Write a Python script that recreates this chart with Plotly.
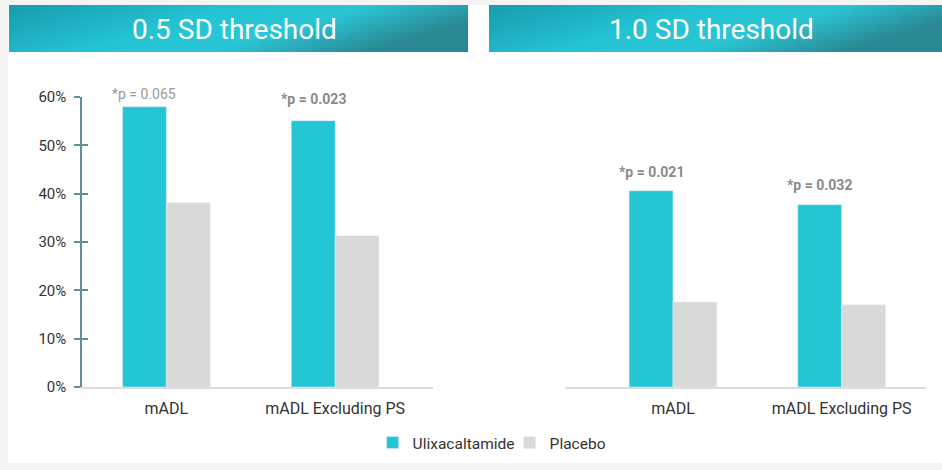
import base64
import plotly.graph_objects as go

# ---- data -------------------------------------------------------------
categories = ["mADL", "mADL Excluding PS"]
panel_titles = ["0.5 SD threshold", "1.0 SD threshold"]

ulix_05 = [58.0, 55.1]
placebo_05 = [38.1, 31.3]
ulix_10 = [40.6, 37.7]
placebo_10 = [17.6, 17.0]

p_labels_05 = ["*p = 0.065", "*p = 0.023"]
p_labels_10 = ["*p = 0.021", "*p = 0.032"]
p_bold_05 = [False, True]
p_bold_10 = [True, True]

y_ticks = [0, 10, 20, 30, 40, 50, 60]
y_tick_text = [f"{v}%" for v in y_ticks]

# ---- styling ----------------------------------------------------------
W, H = 942, 470
ULIX = "#24c6d6"
PLAC = "#d9d9d9"
FONT = "Roboto"


def px_x(v):
    return v / W


def px_y(v):
    return 1 - v / H


def header_svg():
    svg = (
        '<svg xmlns="http://www.w3.org/2000/svg" width="460" height="47" '
        'preserveAspectRatio="none" viewBox="0 0 460 47">'
        '<defs><linearGradient id="g" x1="0" y1="0" x2="1" y2="0.35">'
        '<stop offset="0" stop-color="#179cad"/>'
        '<stop offset="0.45" stop-color="#24c3d4"/>'
        '<stop offset="0.7" stop-color="#2ac6d5"/>'
        '<stop offset="1" stop-color="#2a8995"/>'
        '</linearGradient></defs>'
        '<rect width="460" height="47" fill="url(#g)"/></svg>'
    )
    return "data:image/svg+xml;base64," + base64.b64encode(svg.encode()).decode()


fig = go.Figure()

panels = [
    ("x", "y", ulix_05, placebo_05, True),
    ("x2", "y2", ulix_10, placebo_10, False),
]
for i, (xa, ya, u, p, show) in enumerate(panels):
    fig.add_trace(go.Bar(x=categories, y=u, name="Ulixacaltamide", marker_color=ULIX,
                         xaxis=xa, yaxis=ya, showlegend=show, legendgroup="u"))
    fig.add_trace(go.Bar(x=categories, y=p, name="Placebo", marker_color=PLAC,
                         xaxis=xa, yaxis=ya, showlegend=show, legendgroup="p"))

# p-value labels over the Ulixacaltamide bars
bar_offset = -0.13
for xa, ya, vals, labels, bolds, shifts in [
    ("x", "y", ulix_05, p_labels_05, p_bold_05, [3, 12]),
    ("x2", "y2", ulix_10, p_labels_10, p_bold_10, [9, 10]),
]:
    for k, (v, lab, b) in enumerate(zip(vals, labels, bolds)):
        fig.add_annotation(
            x=k + bar_offset, y=v, xref=xa, yref=ya, text=f"<b>{lab}</b>" if b else lab,
            showarrow=False, yanchor="bottom", yshift=shifts[k],
            font=dict(family=FONT, size=14, color="#8a8a8a" if b else "#9a9a9a"),
        )

# panel headers
hdr = header_svg()
for x0, x1, title in [(9, 468, panel_titles[0]), (489, 942, panel_titles[1])]:
    fig.add_layout_image(source=hdr, xref="paper", yref="paper", x=px_x(x0), y=px_y(5),
                         sizex=px_x(x1 - x0), sizey=47 / H, sizing="stretch",
                         xanchor="left", yanchor="top", layer="above")
    fig.add_annotation(x=px_x((x0 + x1) / 2 - 4), y=px_y(29), xref="paper", yref="paper",
                       text=title, showarrow=False, xanchor="center", yanchor="middle",
                       font=dict(family=FONT, size=28, color="white"))

# white card on light grey page
fig.add_shape(type="rect", xref="paper", yref="paper", x0=px_x(8), x1=1.01,
              y0=px_y(463), y1=px_y(5), fillcolor="white", line_width=0, layer="below")

y_dom = [px_y(387), px_y(97)]
fig.update_layout(
    width=W, height=H,
    margin=dict(l=0, r=0, t=0, b=0, autoexpand=False),
    paper_bgcolor="#f4f4f4",
    plot_bgcolor="rgba(0,0,0,0)",
    barmode="group", bargap=0.48, bargroupgap=0,
    font=dict(family=FONT, color="#333333"),
    xaxis=dict(domain=[px_x(82), px_x(433)], range=[-0.5, 1.58], showline=True,
               linecolor="#dddddd", linewidth=1.5, ticks="", showgrid=False,
               tickfont=dict(size=16, color="#333333"), anchor="y", automargin=False,
               ticklabelstandoff=6),
    yaxis=dict(domain=y_dom, range=[0, 60], tickvals=y_ticks, ticktext=y_tick_text,
               showline=True, linecolor="#5f8d9c", linewidth=1.5, ticks="outside",
               ticklen=6, tickcolor="#5f8d9c", tickwidth=1.5, showgrid=False,
               zeroline=False, tickfont=dict(size=15, color="#333333"), anchor="x",
               automargin=False, ticklabelstandoff=5),
    yaxis3=dict(domain=y_dom, range=[0, 60], tickvals=y_ticks, overlaying="y",
                anchor="x", ticks="inside", ticklen=6, tickcolor="#5f8d9c", tickwidth=1.5,
                showticklabels=False, showgrid=False, zeroline=False, showline=False),
    xaxis2=dict(domain=[px_x(565), px_x(926)], range=[-0.64, 1.5], showline=True,
                linecolor="#dddddd", linewidth=1.5, ticks="", showgrid=False,
                tickfont=dict(size=16, color="#333333"), anchor="y2", automargin=False,
                ticklabelstandoff=6),
    yaxis2=dict(domain=y_dom, range=[0, 60], visible=False, anchor="x2"),
    legend=dict(orientation="h", x=0.541, xanchor="center", y=px_y(443), yanchor="middle",
                font=dict(size=15.5, color="#333333"), bgcolor="rgba(0,0,0,0)",
                itemwidth=30, traceorder="normal", entrywidth=92),
)
# dummy trace to activate the inner-tick overlay axis
fig.add_trace(go.Scatter(x=[None], y=[None], xaxis="x", yaxis="y3", showlegend=False,
                         hoverinfo="skip"))

fig.write_html("out.html")
